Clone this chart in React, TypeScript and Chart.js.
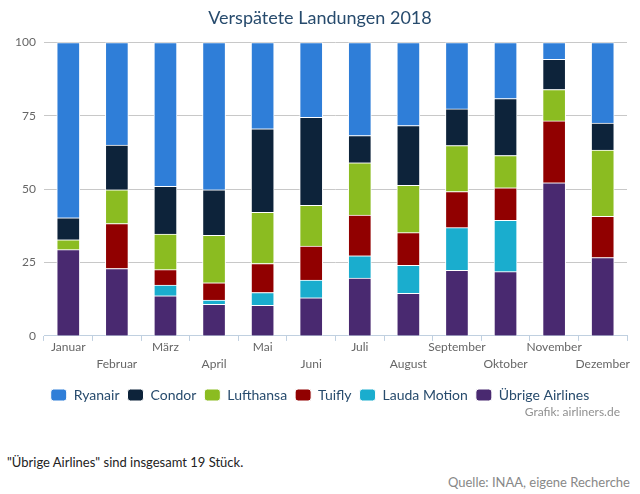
import React, { useEffect, useRef } from "react";
import { Chart, registerables } from "chart.js";

Chart.register(...registerables);

const months = ["Januar", "Februar", "März", "April", "Mai", "Juni", "Juli", "August", "September", "Oktober", "November", "Dezember"];
const ryanair = [59.7, 34.9, 49.0, 50.2, 29.4, 25.5, 31.7, 28.3, 22.6, 19.1, 5.7, 27.4];
const condor = [7.5, 15.3, 16.3, 15.5, 28.5, 30.0, 9.3, 20.4, 12.5, 19.4, 10.3, 9.2];
const lufthansa = [3.4, 11.5, 12.1, 16.2, 17.4, 13.9, 17.8, 16.1, 15.7, 11.0, 10.7, 22.6];
const tuifly = [0, 15.3, 5.3, 5.9, 9.9, 11.6, 13.9, 11.1, 12.3, 11.1, 21.1, 14.1];
const lauda = [0, 0, 3.6, 1.4, 4.4, 6.0, 7.6, 9.6, 14.5, 17.5, 0, 0];
const uebrige = [29.4, 23.0, 13.7, 10.8, 10.4, 13.0, 19.7, 14.5, 22.4, 21.9, 52.2, 26.7];
const yTicks = [0, 25, 50, 75, 100];

const FONT = "Lato, 'Open Sans', sans-serif";

export default function App() {
  const ref = useRef<HTMLCanvasElement | null>(null);

  useEffect(() => {
    document.body.style.margin = "0";
    const ctx = ref.current!;
    const ds = (label: string, data: number[], color: string) => ({
      label,
      data,
      backgroundColor: color,
      borderColor: "#ffffff",
      borderWidth: 1,
      barThickness: 23,
      yAxisID: "y",
    });
    const chart = new Chart(ctx, {
      type: "bar",
      data: {
        labels: months,
        datasets: [
          ds("Übrige Airlines", uebrige, "#492970"),
          ds("Lauda Motion", lauda, "#1aadce"),
          ds("Tuifly", tuifly, "#910000"),
          ds("Lufthansa", lufthansa, "#8bbc21"),
          ds("Condor", condor, "#0d233a"),
          ds("Ryanair", ryanair, "#2f7ed8"),
        ],
      },
      options: {
        responsive: false,
        animation: false,
        layout: { padding: 0 },
        plugins: {
          title: {
            display: true,
            text: "Verspätete Landungen 2018",
            color: "#274b6d",
            font: { family: FONT, size: 18, weight: "normal" },
            padding: { top: 7, bottom: 14 },
          },
          legend: {
            position: "bottom",
            reverse: true,
            labels: {
              boxWidth: 16,
              boxHeight: 12,
              useBorderRadius: true,
              borderRadius: 3,
              color: "#274b6d",
              font: { family: FONT, size: 14 },
              padding: 8,
            },
          },
          tooltip: { enabled: false },
        },
        scales: {
          x: {
            stacked: true,
            grid: { display: true, drawOnChartArea: false, drawTicks: true, tickLength: 5, tickColor: "#c0d0e0", offset: true },
            border: { display: true, color: "#c0d0e0" },
            afterFit: (s: any) => { s.height = s.height + 9; },
            ticks: {
              autoSkip: false,
              maxRotation: 0,
              minRotation: 0,
              color: "#666666",
              padding: -2,
              font: { family: FONT, size: 12, lineHeight: 1.42 },
              callback: (v: any, i: number) => (i % 2 === 0 ? months[i] : ["", months[i]]),
            },
          },
          y: {
            stacked: true,
            min: 0,
            max: 100,
            afterFit: (s: any) => { s.width = 44; },
            afterBuildTicks: (s: any) => { s.ticks = yTicks.map((v) => ({ value: v })); },
            grid: { color: "#c8c8c8", drawTicks: false },
            border: { display: false },
            ticks: {
              color: "#666666",
              padding: 8,
              font: { family: FONT, size: 12 },
            },
          },
          yRight: {
            position: "right",
            display: true,
            grid: { display: false, drawTicks: false },
            border: { display: false },
            ticks: { display: false },
            afterFit: (s: any) => { s.width = 13; },
          },
        },
      },
    } as any);
    return () => chart.destroy();
  }, []);

  return (
    <div style={{ position: "relative", width: 640, height: 494, background: "#fff", fontFamily: FONT }}>
      <canvas ref={ref} width={640} height={412} style={{ position: "absolute", left: 0, top: 0 }} />
      <div style={{ position: "absolute", right: 20, top: 404, fontSize: 12, color: "#909090" }}>Grafik: airliners.de</div>
      <div style={{ position: "absolute", left: 7, top: 454, fontSize: 13, color: "#222" }}>"Übrige Airlines" sind insgesamt 19 Stück.</div>
      <div style={{ position: "absolute", right: 10, top: 474, fontSize: 13, color: "#888" }}>Quelle: INAA, eigene Recherche</div>
    </div>
  );
}
